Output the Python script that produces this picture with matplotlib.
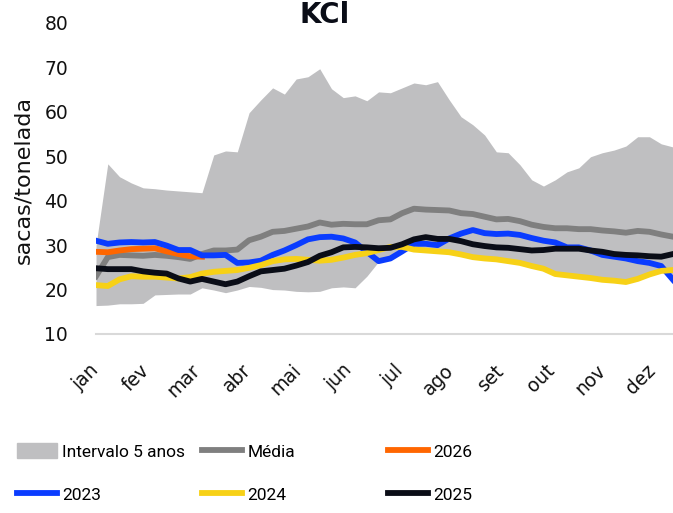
import numpy as np
import matplotlib.pyplot as plt
from matplotlib.patches import Patch
from matplotlib.lines import Line2D

# weekly series, jan..dez (50 points)
band_low = [16.4, 16.5, 16.8, 16.8, 16.9, 18.8, 18.9, 19.0, 19.0, 20.4,
            19.9, 19.3, 19.9, 20.7, 20.5, 20.0, 19.9, 19.6, 19.5, 19.6,
            20.4, 20.6, 20.4, 23.0, 26.3, 27.0, 28.6, 29.0, 28.8, 28.6,
            28.4, 27.9, 27.3, 27.0, 26.8, 26.4, 26.0, 25.3, 24.7, 23.5,
            23.2, 22.9, 22.6, 22.2, 22.0, 21.7, 22.4, 23.4, 24.2, 22.2]
band_high = [30.0, 48.3, 45.4, 44.0, 42.9, 42.7, 42.4, 42.2, 42.0, 41.8,
             50.3, 51.2, 51.0, 59.8, 62.7, 65.4, 64.0, 67.4, 67.9, 69.7,
             65.2, 63.2, 63.6, 62.5, 64.5, 64.3, 65.4, 66.5, 66.1, 66.8,
             62.7, 58.9, 57.1, 54.8, 51.0, 50.8, 48.1, 44.7, 43.3, 44.7,
             46.5, 47.4, 49.9, 50.8, 51.4, 52.3, 54.4, 54.4, 52.8, 52.1]
media = [23.0, 27.3, 27.8, 27.7, 27.6, 27.8, 27.6, 27.3, 26.9, 28.0,
         28.8, 28.8, 29.0, 31.1, 31.9, 33.0, 33.2, 33.7, 34.2, 35.1,
         34.6, 34.8, 34.7, 34.7, 35.6, 35.8, 37.2, 38.2, 38.0, 37.9,
         37.8, 37.2, 37.0, 36.4, 35.8, 35.9, 35.4, 34.6, 34.1, 33.8,
         33.8, 33.6, 33.6, 33.3, 33.1, 32.8, 33.2, 33.0, 32.4, 31.9]
y2026 = [28.5, 28.4, 28.8, 29.1, 29.2, 29.3, 28.6, 28.0, 27.5, 27.4]
y2023 = [31.0, 30.3, 30.6, 30.7, 30.6, 30.7, 29.9, 28.9, 28.9, 27.7,
         27.7, 27.8, 26.0, 26.1, 26.5, 27.8, 28.8, 30.0, 31.3, 31.8,
         31.9, 31.5, 30.6, 28.5, 26.4, 27.0, 28.6, 30.3, 30.3, 30.0,
         31.5, 32.6, 33.4, 32.7, 32.5, 32.6, 32.3, 31.6, 31.0, 30.6,
         29.5, 29.5, 28.8, 27.8, 27.4, 27.0, 26.4, 26.0, 25.3, 22.2]
y2024 = [21.0, 20.8, 22.3, 23.0, 22.9, 22.9, 22.7, 22.5, 22.8, 23.6,
         24.0, 24.2, 24.4, 24.9, 25.5, 26.4, 26.8, 26.9, 26.7, 26.5,
         26.7, 27.2, 27.8, 28.2, 28.9, 29.6, 29.6, 29.0, 28.8, 28.6,
         28.4, 27.9, 27.3, 27.0, 26.8, 26.4, 26.0, 25.3, 24.7, 23.5,
         23.2, 22.9, 22.6, 22.2, 22.0, 21.7, 22.4, 23.4, 24.2, 24.4]
y2025 = [24.8, 24.6, 24.6, 24.6, 24.1, 23.8, 23.6, 22.5, 21.8, 22.4,
         21.8, 21.2, 21.8, 23.0, 24.1, 24.4, 24.7, 25.4, 26.2, 27.6,
         28.4, 29.5, 29.6, 29.5, 29.3, 29.4, 30.2, 31.3, 31.8, 31.4,
         31.4, 30.9, 30.2, 29.8, 29.5, 29.4, 29.1, 28.8, 28.9, 29.2,
         29.2, 29.2, 28.8, 28.5, 28.0, 27.8, 27.7, 27.5, 27.4, 28.0]
months = ["jan", "fev", "mar", "abr", "mai", "jun",
          "jul", "ago", "set", "out", "nov", "dez"]

C_BAND = "#bfbfc1"
C_MEDIA = "#7f7f7f"
C_2026 = "#ff6600"
C_2023 = "#0a3cff"
C_2024 = "#f7d117"
C_2025 = "#0a0d17"
LW = 4.2

fig = plt.figure(figsize=(6.73, 5.13), dpi=100)
ax = fig.add_axes([96 / 673, 1 - 334 / 513, 1 - 96 / 673, (334 - 23) / 513])

wk = np.arange(len(media))
ax.fill_between(wk, band_low, band_high, color=C_BAND, lw=0, zorder=1)
ax.plot(wk, media, color=C_MEDIA, lw=LW, zorder=2)
ax.plot(np.arange(len(y2026)), y2026, color=C_2026, lw=LW, zorder=3)
ax.plot(wk, y2023, color=C_2023, lw=LW, zorder=4)
ax.plot(wk, y2024, color=C_2024, lw=LW, zorder=5)
ax.plot(wk, y2025, color=C_2025, lw=LW, zorder=6)

ax.set_xlim(0, len(media) - 1)
ax.set_ylim(10, 80)
ax.set_yticks(np.arange(10, 81, 10))
ax.set_xticks(np.arange(12) * 4.3)
ax.set_xticklabels(months, rotation=45, ha="right", va="center",
                   rotation_mode="anchor")
ax.tick_params(axis="both", length=0, labelsize=13.5, colors="#111111")
ax.tick_params(axis="y", pad=20)
ax.tick_params(axis="x", pad=24)
for s in ("top", "right", "left"):
    ax.spines[s].set_visible(False)
ax.spines["bottom"].set_color("#d9d9d9")
ax.spines["bottom"].set_linewidth(1.5)
ax.set_ylabel("sacas/tonelada", fontsize=16, color="#111111")
ax.yaxis.set_label_coords(-0.108, 0.495)

fig.text(325 / 673, 1 - 23 / 513, "KCl", ha="center", va="baseline",
         fontsize=20, fontweight="bold", color="#0a0d17")

# legend: three fixed columns, two rows
leg_font = dict(family=["Roboto", "DejaVu Sans"], size=12.5)
cols = [
    ([Patch(color=C_BAND), Line2D([], [], color=C_2023, lw=LW)],
     ["Intervalo 5 anos", "2023"], 17),
    ([Line2D([], [], color=C_MEDIA, lw=LW), Line2D([], [], color=C_2024, lw=LW)],
     ["Média", "2024"], 202),
    ([Line2D([], [], color=C_2026, lw=LW), Line2D([], [], color=C_2025, lw=LW)],
     ["2026", "2025"], 388),
]
for handles, labels, x0 in cols:
    fig.legend(handles, labels, loc="center left",
               bbox_to_anchor=(x0 / 673, 1 - 473 / 513), frameon=False,
               prop=leg_font, handlelength=2.3, handleheight=0.9,
               handletextpad=0.3, labelspacing=1.55, borderpad=0,
               borderaxespad=0)

fig.savefig("out.png", dpi=100, facecolor="white")
